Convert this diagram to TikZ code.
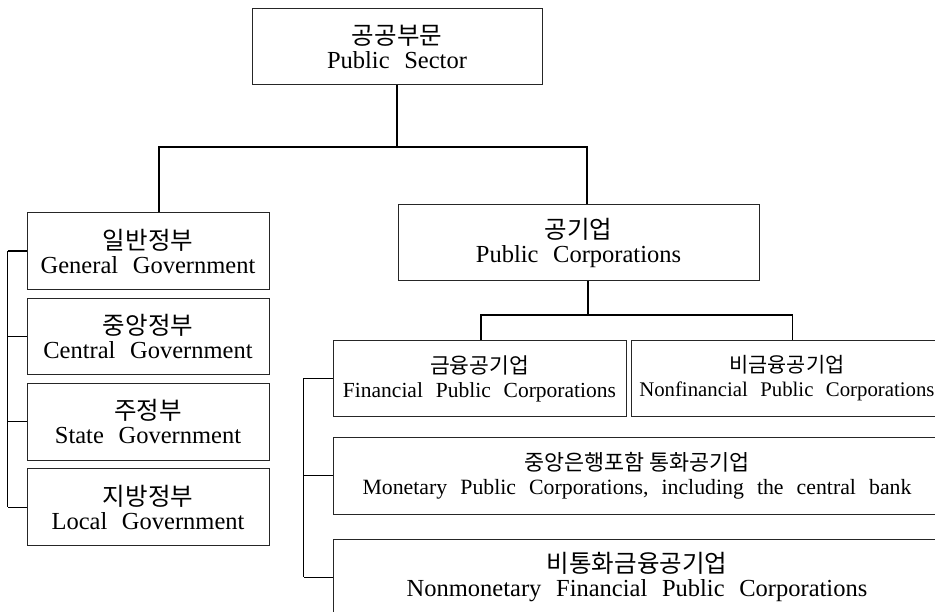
\documentclass[tikz,border=0pt]{standalone}
\usepackage{fontspec}
\setmainfont{Liberation Serif}[WordSpace=2.4]
\newfontfamily\kr{Noto Sans CJK KR}
\usetikzlibrary{positioning,calc}
\newcommand{\bigtxt}{\fontsize{24.5}{24}\selectfont}
\newcommand{\smalltxt}{\fontsize{21.5}{24}\selectfont}

\begin{document}
\begin{tikzpicture}[
    x=1pt, y=1pt,
    box/.style={rectangle, draw=black!85, line width=0.9pt, inner sep=0pt, align=center, minimum height=76.5pt, font=\bigtxt},
    smallbox/.style={box, font=\smalltxt},
    link/.style={line width=1.1pt, black}
  ]
    \useasboundingbox (0,0) rectangle (935,612);
    \clip (0,0) rectangle (935,612);
    \node[box, minimum width=290pt] (sector) at (397,565.5) {{\kr 공공부문}\\Public Sector};
    \node[box, minimum width=242pt] (gen) at (148,361) {{\kr 일반정부}\\General Government};
    \node[box, minimum width=242pt, below=8pt of gen] (cen) {{\kr 중앙정부}\\Central Government};
    \node[box, minimum width=242pt, below=8pt of cen] (sta) {{\kr 주정부}\\State Government};
    \node[box, minimum width=242pt, below=8pt of sta] (loc) {{\kr 지방정부}\\Local Government};
    \node[box, minimum width=361pt] (pc) at (578.5,369.5) {{\kr 공기업}\\Public Corporations};
    \node[smallbox, minimum width=293pt] (fin) at (479.5,233.5) {{\kr 금융공기업}\\Financial Public Corporations};
    \node[smallbox, font=\fontsize{20.8}{24}\selectfont, minimum width=310pt, right=5pt of fin] (nonfin) {{\kr 비금융공기업}\\Nonfinancial Public Corporations};
    \node[smallbox, font=\fontsize{21.8}{24}\selectfont, minimum width=608pt, below right=20pt and 0pt of fin.south west] (mon) {{\kr 중앙은행포함 통화공기업}\\Monetary Public Corporations, including the central bank};
    \node[box, minimum width=608pt, below right=24pt and 0pt of mon.south west] (nonmon) {{\kr 비통화금융공기업}\\Nonmonetary Financial Public Corporations};
    \coordinate (bus) at (0,465);
    \coordinate (subbus) at (0,297);
    \draw[link] (sector.south) -- (sector.south |- bus);
    \draw[link] ([xshift=11pt]gen.north) |- ([xshift=8.5pt]pc.north |- bus) -- ([xshift=8.5pt]pc.north);
    \draw[link] ([xshift=9.5pt]pc.south) -- ([xshift=9.5pt]pc.south |- subbus);
    \draw[link] ([xshift=1.5pt]fin.north) |- ([xshift=6pt]nonfin.north |- subbus) -- ([xshift=6pt]nonfin.north);
    \foreach \n in {gen,cen,sta,loc} \draw[link] (\n.west) -- ++(-19,0);
    \draw[link] ([xshift=-19pt]gen.west) -- ([xshift=-19pt]loc.west);
    \foreach \n in {fin,mon,nonmon} \draw[link] (\n.west) -- ++(-29,0);
    \draw[link] ([xshift=-29pt]fin.west) -- ([xshift=-29pt]nonmon.west);
  \end{tikzpicture}
\end{document}
